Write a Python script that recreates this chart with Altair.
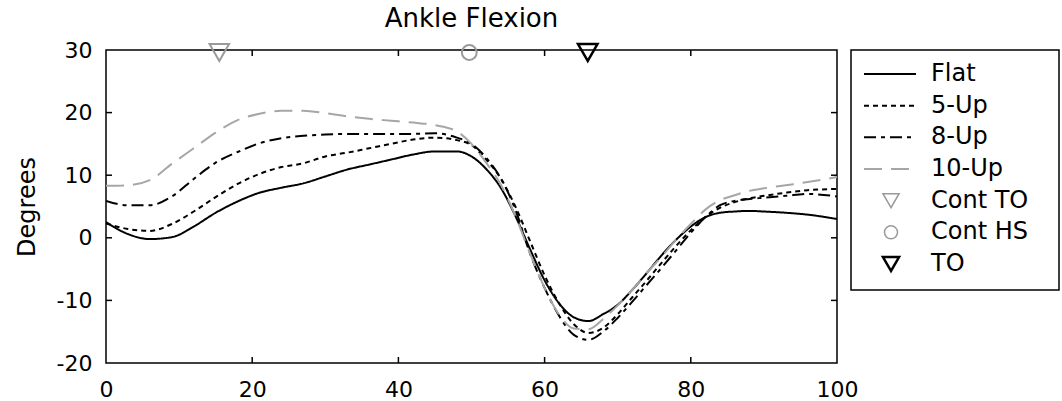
import altair as alt
import pandas as pd

# ---------------- data ----------------
x_pct = [0, 3, 6, 9, 12, 15, 18, 21, 24, 27, 30, 33, 36, 39, 42, 45, 48, 50, 52, 54,
         56, 58, 60, 62, 64, 66, 68, 70, 72, 74, 76, 78, 80, 82, 84, 86, 88, 90, 93, 96, 100]

flat = [2.5, 0.6, -0.2, 0.1, 1.8, 4.0, 5.8, 7.2, 8.0, 8.7, 9.8, 10.9, 11.7, 12.5, 13.3, 13.8, 13.8, 13.0, 11.0, 8.0,
        3.5, -1.8, -6.8, -10.5, -12.7, -13.3, -12.2, -10.7, -8.3, -5.6, -2.8, -0.3, 1.8, 3.3, 4.0, 4.2, 4.3, 4.2, 4.0, 3.7, 3.0]

up5 = [2.3, 1.4, 1.1, 2.2, 4.2, 6.5, 8.6, 10.2, 11.3, 11.9, 13.0, 13.6, 14.3, 15.0, 15.7, 16.0, 15.6, 14.8, 12.5, 9.5,
       5.0, -0.5, -6.0, -10.5, -13.8, -15.2, -14.4, -12.2, -9.5, -6.8, -4.0, -1.3, 1.2, 3.3, 4.8, 5.7, 6.3, 6.7, 7.2, 7.6, 7.8]

up8 = [5.9, 5.2, 5.2, 6.6, 9.4, 12.0, 13.7, 15.1, 15.9, 16.3, 16.5, 16.6, 16.6, 16.6, 16.6, 16.7, 16.0, 15.0, 12.8, 9.5,
       4.5, -2.5, -8.0, -12.5, -15.5, -16.3, -15.0, -12.8, -10.2, -7.5, -4.8, -2.0, 0.8, 3.3, 5.2, 5.9, 6.2, 6.4, 6.7, 7.0, 6.6]

up10 = [8.3, 8.4, 9.2, 11.8, 14.3, 16.8, 18.8, 19.8, 20.3, 20.3, 19.9, 19.4, 19.0, 18.7, 18.4, 18.0, 17.0, 15.0, 12.0, 8.5,
        3.5, -2.5, -8.0, -12.3, -14.5, -14.6, -13.0, -10.8, -8.3, -5.6, -3.0, -0.3, 2.2, 4.5, 6.0, 6.8, 7.5, 7.9, 8.4, 8.9, 9.7]

series_names = ["Flat", "5-Up", "8-Up", "10-Up"]
series_values = [flat, up5, up8, up10]

event_names = ["Cont TO", "Cont HS", "TO"]
event_x = [15.5, 49.7, 65.9]
event_y = [29.6, 29.6, 29.6]

x_ticks = [0, 20, 40, 60, 80, 100]
y_ticks = [-20, -10, 0, 10, 20, 30]
x_inner_ticks = [20, 40, 60, 80]
y_inner_ticks = [-10, 0, 10, 20]

legend_labels = series_names + event_names

# ---------------- tables ----------------
rows = []
for name, vals in zip(series_names, series_values):
    for xv, yv in zip(x_pct, vals):
        rows.append({"series": name, "x": xv, "y": yv})
lines_df = pd.DataFrame(rows)
events_df = pd.DataFrame({"event": event_names, "x": event_x, "y": event_y})
xt_df = pd.DataFrame({"x": x_inner_ticks})
yt_df = pd.DataFrame({"y": y_inner_ticks})
leg_df = pd.DataFrame({"label": legend_labels})

# ---------------- styles ----------------
W, H = 731, 313
FONT = "DejaVu Sans"
GRAY = "#a6a6a6"
MGRAY = "#9a9a9a"
series_colors = ["black", "black", "black", GRAY]
series_dashes = [[1, 0], [5, 4], [12, 5, 4, 5], [18, 9]]

x_enc = alt.X("x:Q", scale=alt.Scale(domain=[0, 100], nice=False, zero=False),
              axis=alt.Axis(values=x_ticks, title=None, tickSize=0, domain=False, grid=False,
                            labelFontSize=22, labelPadding=16, labelFlush=False,
                            labelFont=FONT, labelColor="black"))
y_enc = alt.Y("y:Q", scale=alt.Scale(domain=[-20, 30], nice=False, zero=False),
              axis=alt.Axis(values=y_ticks, title="Degrees", tickSize=0, domain=False, grid=False,
                            labelExpr="datum.value < 0 ? '-' + abs(datum.value) : datum.label",
                            labelFontSize=22, labelPadding=14, labelFont=FONT, labelColor="black",
                            titleFont=FONT, titleFontSize=24, titleFontWeight="normal",
                            titleColor="black", titlePadding=17))

color_s = alt.Color("series:N", scale=alt.Scale(domain=series_names, range=series_colors), legend=None)
dash_s = alt.StrokeDash("series:N", scale=alt.Scale(domain=series_names, range=series_dashes), legend=None)

lines = alt.Chart(lines_df).mark_line(strokeWidth=2, interpolate="monotone", clip=True).encode(
    x=x_enc, y=y_enc, color=color_s, strokeDash=dash_s,
    order=alt.Order("x:Q"))

ev_cto = alt.Chart(events_df).transform_filter(alt.datum.event == "Cont TO").mark_point(
    shape="triangle-down", filled=False, strokeWidth=2, size=380, opacity=1, color=MGRAY).encode(x=x_enc, y=y_enc)
ev_chs = alt.Chart(events_df).transform_filter(alt.datum.event == "Cont HS").mark_point(
    shape="circle", filled=False, strokeWidth=2, size=220, opacity=1, color=MGRAY).encode(x=x_enc, y=y_enc)
ev_to = alt.Chart(events_df).transform_filter(alt.datum.event == "TO").mark_point(
    shape="triangle-down", filled=False, strokeWidth=2.5, size=380, opacity=1, color="black").encode(x=x_enc, y=y_enc)

tick_len = 6
xt_bottom = alt.Chart(xt_df).mark_rule(color="black", strokeWidth=1.5).encode(
    x=x_enc, y=alt.value(H - tick_len), y2=alt.value(H))
xt_top = alt.Chart(xt_df).mark_rule(color="black", strokeWidth=1.5).encode(
    x=x_enc, y=alt.value(0), y2=alt.value(tick_len))
yt_left = alt.Chart(yt_df).mark_rule(color="black", strokeWidth=1.5).encode(
    y=y_enc, x=alt.value(0), x2=alt.value(tick_len))
yt_right = alt.Chart(yt_df).mark_rule(color="black", strokeWidth=1.5).encode(
    y=y_enc, x=alt.value(W - tick_len), x2=alt.value(W))

main = alt.layer(lines, xt_bottom, xt_top, yt_left, yt_right, ev_cto, ev_chs, ev_to).properties(
    width=W, height=H,
    title=alt.TitleParams("Ankle Flexion", fontSize=26, fontWeight="normal", font=FONT,
                          color="black", anchor="middle", offset=7))

# ---------------- legend panel ----------------
LW, LH = 208, 240
y_leg = alt.Y("label:N", sort=legend_labels,
              scale=alt.Scale(type="point", padding=0.79, align=0.48), axis=None)

leg_lines = alt.Chart(leg_df).transform_filter(
    alt.FieldOneOfPredicate(field="label", oneOf=series_names)).mark_rule(strokeWidth=2).encode(
    y=y_leg, x=alt.value(13), x2=alt.value(65),
    color=alt.Color("label:N", scale=alt.Scale(domain=series_names, range=series_colors), legend=None),
    strokeDash=alt.StrokeDash("label:N", scale=alt.Scale(domain=series_names, range=series_dashes), legend=None))
leg_cto = alt.Chart(leg_df).transform_filter(alt.datum.label == "Cont TO").mark_point(
    shape="triangle-down", filled=False, strokeWidth=1.5, size=260, opacity=1, color=MGRAY).encode(
    y=y_leg, x=alt.value(40))
leg_chs = alt.Chart(leg_df).transform_filter(alt.datum.label == "Cont HS").mark_point(
    shape="circle", filled=False, strokeWidth=1.5, size=170, opacity=1, color=MGRAY).encode(
    y=y_leg, x=alt.value(40))
leg_to = alt.Chart(leg_df).transform_filter(alt.datum.label == "TO").mark_point(
    shape="triangle-down", filled=False, strokeWidth=2.5, size=260, opacity=1, color="black").encode(
    y=y_leg, x=alt.value(40))
leg_text = alt.Chart(leg_df).mark_text(align="left", baseline="middle", fontSize=24, font=FONT,
                                       color="black").encode(
    y=y_leg, x=alt.value(80), text="label:N")

legend_panel = alt.layer(leg_lines, leg_cto, leg_chs, leg_to, leg_text).properties(width=LW, height=LH)

chart = alt.hconcat(main, legend_panel, spacing=14, bounds="flush").resolve_scale(
    x="independent", y="independent", color="independent", strokeDash="independent"
).properties(
    padding={"left": 14, "top": 5, "right": 0, "bottom": 0}, background="white"
).configure_view(stroke="black", strokeWidth=1.5)

chart.save("out.html", embed_options={"renderer": "svg", "actions": False})
